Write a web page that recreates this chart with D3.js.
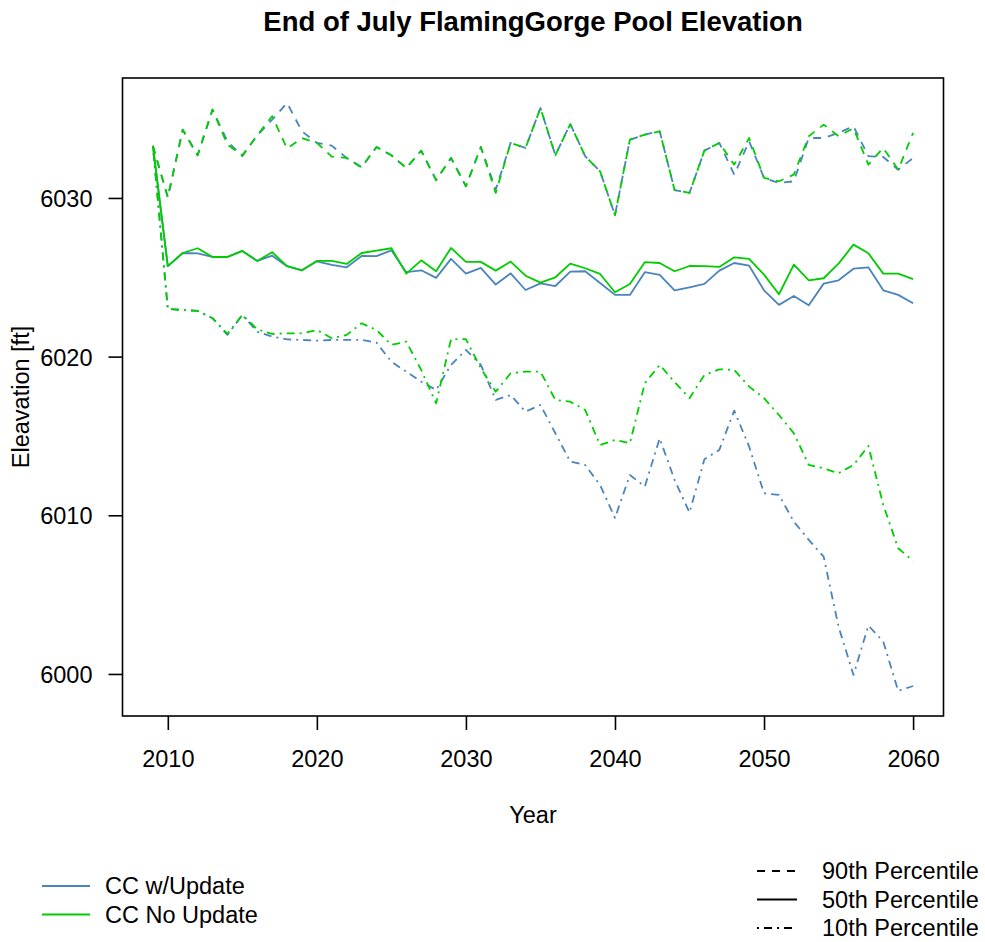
<!DOCTYPE html>
<html>
<head>
<meta charset="utf-8">
<script src="https://cdn.jsdelivr.net/npm/d3@7"></script>
<style>
  html, body { margin: 0; padding: 0; background: #fff; }
  svg text { font-family: "Liberation Sans", Arial, Helvetica, sans-serif; fill: #000; }
</style>
</head>
<body>
<svg id="chart" width="985" height="942"></svg>
<script>
const years = [2009,2010,2011,2012,2013,2014,2015,2016,2017,2018,2019,2020,2021,2022,2023,2024,2025,2026,2027,2028,2029,2030,2031,2032,2033,2034,2035,2036,2037,2038,2039,2040,2041,2042,2043,2044,2045,2046,2047,2048,2049,2050,2051,2052,2053,2054,2055,2056,2057,2058,2059,2060];

// CC w/Update
const p90Update = [6033.28,6030.04,6034.30,6032.69,6035.57,6033.57,6032.63,6033.95,6034.93,6035.99,6034.20,6033.47,6033.30,6032.52,6031.93,6033.21,6032.69,6031.89,6032.98,6031.12,6032.52,6030.74,6033.21,6030.52,6033.47,6033.15,6035.67,6032.69,6034.66,6032.63,6031.68,6028.91,6033.67,6033.99,6034.20,6030.50,6030.32,6032.98,6033.47,6031.47,6033.57,6031.26,6030.95,6031.05,6033.78,6033.78,6034.10,6034.52,6032.63,6032.58,6031.78,6032.52];
const p50Update = [6033.28,6025.70,6026.53,6026.51,6026.28,6026.28,6026.66,6026.03,6026.36,6025.70,6025.44,6026.01,6025.78,6025.63,6026.34,6026.33,6026.70,6025.32,6025.44,6024.96,6026.16,6025.23,6025.59,6024.54,6025.25,6024.20,6024.62,6024.45,6025.36,6025.38,6024.64,6023.89,6023.89,6025.32,6025.15,6024.18,6024.37,6024.58,6025.42,6025.90,6025.73,6024.18,6023.26,6023.82,6023.24,6024.60,6024.81,6025.54,6025.63,6024.18,6023.89,6023.36];
const p10Update = [6033.28,6023.00,6022.94,6022.88,6022.42,6021.37,6022.63,6021.57,6021.26,6021.09,6021.05,6021.01,6021.05,6021.05,6021.05,6020.88,6019.68,6019.05,6018.42,6017.90,6019.48,6020.42,6019.48,6017.27,6017.58,6016.53,6016.95,6015.17,6013.38,6013.17,6011.91,6009.83,6012.54,6011.81,6014.85,6012.23,6010.17,6013.53,6014.12,6016.60,6014.33,6011.39,6011.28,6009.60,6008.45,6007.39,6002.98,5999.94,6003.05,6002.04,5998.93,5999.24];

// CC No Update
const p90NoUpdate = [6033.28,6030.04,6034.30,6032.69,6035.57,6033.36,6032.69,6033.95,6035.15,6033.11,6033.78,6033.47,6032.60,6032.52,6031.93,6033.21,6032.69,6031.89,6032.98,6031.12,6032.52,6030.74,6033.21,6030.32,6033.47,6033.15,6035.67,6032.69,6034.66,6032.63,6031.68,6028.91,6033.67,6033.99,6034.20,6030.50,6030.32,6032.98,6033.47,6032.10,6033.78,6031.26,6031.05,6031.47,6033.89,6034.62,6033.89,6034.40,6032.10,6033.15,6031.78,6034.10];
const p50NoUpdate = [6033.28,6025.70,6026.53,6026.83,6026.28,6026.28,6026.66,6026.03,6026.58,6025.70,6025.44,6026.03,6026.03,6025.84,6026.53,6026.68,6026.83,6025.23,6026.07,6025.38,6026.85,6025.97,6025.97,6025.42,6025.99,6025.10,6024.66,6025.00,6025.86,6025.57,6025.21,6024.06,6024.58,6025.95,6025.90,6025.38,6025.71,6025.70,6025.65,6026.26,6026.16,6025.17,6023.93,6025.80,6024.81,6024.94,6025.86,6027.06,6026.51,6025.23,6025.23,6024.88];
const p10NoUpdate = [6033.28,6023.00,6022.94,6022.88,6022.42,6021.43,6022.63,6021.72,6021.43,6021.47,6021.47,6021.68,6021.16,6021.37,6022.10,6021.68,6020.74,6020.94,6019.16,6017.06,6021.10,6021.10,6019.27,6017.79,6018.95,6019.05,6019.05,6017.27,6017.16,6016.64,6014.43,6014.75,6014.54,6018.32,6019.48,6018.40,6017.38,6018.84,6019.20,6019.16,6018.11,6017.38,6016.32,6015.17,6013.17,6012.96,6012.65,6013.17,6014.37,6010.65,6007.92,6007.12];

const xTicks = [2010,2020,2030,2040,2050,2060];
const yTicks = [6000,6010,6020,6030];
const scenarioNames = ["CC w/Update","CC No Update"];
const percentileNames = ["90th Percentile","50th Percentile","10th Percentile"];

const titleText = "End of July FlamingGorge Pool Elevation";
const xLabel = "Year";
const yLabel = "Eleavation [ft]";

const colors = ["#4A84BD", "#00CD00"];
const dashes = ["8,7", null, "2,5,8,5"];
const fs = 23.5;

const svg = d3.select("#chart");
const plot = {left: 122.5, right: 943.5, top: 78, bottom: 716};

// R-style 4% extension of data range
const xMin = d3.min(years), xMax = d3.max(years);
const xPad = (xMax - xMin) * 0.04;
const x = d3.scaleLinear().domain([xMin - xPad, xMax + xPad]).range([plot.left, plot.right]);
const y = d3.scaleLinear().domain([5997.35, 6037.56]).range([plot.bottom, plot.top]);

const seriesGroups = [
  [p90Update, p50Update, p10Update],
  [p90NoUpdate, p50NoUpdate, p10NoUpdate]
];

const line = d3.line().x((d, i) => x(years[i])).y(d => y(d));

seriesGroups.forEach((group, si) => {
  group.forEach((vals, pi) => {
    const p = svg.append("path")
      .datum(vals)
      .attr("d", line)
      .attr("fill", "none")
      .attr("stroke", colors[si])
      .attr("stroke-width", 1.8)
      .attr("stroke-linejoin", "round");
    if (dashes[pi]) p.attr("stroke-dasharray", dashes[pi]);
  });
});

// box
svg.append("rect")
  .attr("x", plot.left).attr("y", plot.top)
  .attr("width", plot.right - plot.left).attr("height", plot.bottom - plot.top)
  .attr("fill", "none").attr("stroke", "#000").attr("stroke-width", 1.6);

// x axis
const xAxis = d3.axisBottom(x).tickValues(xTicks).tickFormat(d3.format("d")).tickSize(14).tickPadding(22);
const gx = svg.append("g").attr("transform", `translate(0,${plot.bottom})`).call(xAxis);
gx.select(".domain").remove();
gx.selectAll(".tick line").attr("stroke", "#000").attr("stroke-width", 1.6);
gx.selectAll(".tick text").attr("font-size", fs).attr("fill", "#000")
  .attr("dy", null).attr("y", 51);

// y axis
const yAxis = d3.axisLeft(y).tickValues(yTicks).tickFormat(d3.format("d")).tickSize(14).tickPadding(16);
const gy = svg.append("g").attr("transform", `translate(${plot.left},0)`).call(yAxis);
gy.select(".domain").remove();
gy.selectAll(".tick line").attr("stroke", "#000").attr("stroke-width", 1.6);
gy.selectAll(".tick text").attr("font-size", fs).attr("fill", "#000")
  .attr("x", -30).attr("dy", "0.36em");

// title & labels
svg.append("text").attr("x", 533).attr("y", 31).attr("text-anchor", "middle")
  .attr("font-size", 27.5).attr("font-weight", "bold").text(titleText);
svg.append("text").attr("x", 533).attr("y", 823).attr("text-anchor", "middle")
  .attr("font-size", fs).text(xLabel);
svg.append("text").attr("transform", "translate(29,397) rotate(-90)").attr("text-anchor", "middle")
  .attr("font-size", fs).text(yLabel);

// legend left (scenarios)
const legL = svg.append("g");
scenarioNames.forEach((name, i) => {
  const yy = 886 + i * 28.5;
  legL.append("line").attr("x1", 42).attr("x2", 90).attr("y1", yy).attr("y2", yy)
    .attr("stroke", colors[i]).attr("stroke-width", 1.8);
  legL.append("text").attr("x", 105).attr("y", yy).attr("dy", "0.36em")
    .attr("font-size", fs).text(name);
});

// legend right (percentiles)
const legR = svg.append("g");
percentileNames.forEach((name, i) => {
  const yy = 871 + i * 28.5;
  const l = legR.append("line").attr("x1", 757).attr("x2", 797).attr("y1", yy).attr("y2", yy)
    .attr("stroke", "#000").attr("stroke-width", 1.8);
  if (dashes[i]) l.attr("stroke-dasharray", dashes[i]);
  legR.append("text").attr("x", 822).attr("y", yy).attr("dy", "0.36em")
    .attr("font-size", fs).text(name);
});
</script>
</body>
</html>
